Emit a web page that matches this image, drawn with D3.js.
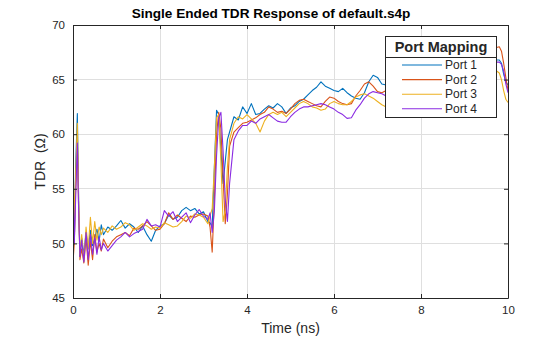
<!DOCTYPE html>
<html><head><meta charset="utf-8">
<script src="https://cdn.jsdelivr.net/npm/d3@7"></script>
<style>
body{margin:0;background:#fff;}
svg{font-family:"Liberation Sans",Arial,sans-serif;}
</style></head>
<body><svg id="c" width="560" height="337"></svg>
<script>
const timeNs = [
 0,0.03,0.06,0.1,0.13,0.16,0.2,0.25,0.3,0.35,
 0.4,0.45,0.5,0.55,0.6,0.65,0.7,0.8,0.9,1.0,
 1.1,1.2,1.3,1.4,1.5,1.6,1.7,1.8,1.9,2.0,
 2.1,2.2,2.3,2.4,2.5,2.6,2.7,2.8,2.9,3.0,
 3.1,3.15,3.2,3.25,3.3,3.35,3.4,3.45,3.5,3.55,
 3.6,3.7,3.8,3.9,4.0,4.1,4.2,4.3,4.4,4.5,
 4.6,4.7,4.8,4.9,5.0,5.1,5.2,5.3,5.4,5.5,
 5.6,5.7,5.8,5.9,6.0,6.1,6.2,6.3,6.4,6.5,
 6.6,6.7,6.8,6.9,7.0,7.1,7.2,7.4,7.6,7.8,
 8.0,8.2,8.4,8.6,8.8,9.0,9.2,9.4,9.6,9.7,
 9.8,9.85,9.9,9.95,10.0];
const port1 = [
 56,50,57,61.9,54,48.8,50.5,49,51,49.5,
 51.2,49.8,50.5,51.3,50.2,51.7,50.8,51.5,51.2,51.6,
 52.1,51.4,51.8,51.5,51.0,51.6,50.8,50.2,51.2,51.6,
 51.8,52.6,52.2,52.4,53.0,53.3,53.0,53.2,52.7,52.9,
 52.0,51.9,51.5,57,62.2,61.8,58.5,55.5,57.5,59.5,
 60.2,61.6,61.3,62.5,61.9,62.8,61.8,61.9,62.3,62.6,
 62.4,62.8,62.5,61.9,62.4,62.6,63.0,63.2,63.6,64.0,
 64.3,64.8,64.4,64.2,64.0,63.9,64.2,63.8,63.5,63.3,
 63.2,63.8,64.8,65.4,65.2,64.6,64.5,64.3,64.2,64.0,
 64.0,64.3,64.2,64.5,64.5,64.8,65.0,65.5,66.3,66.8,
 66.8,66.5,65.5,64.8,64.5];
const port2 = [
 48.3,50,55,59.5,53,48.5,49.5,48.2,50.5,48.0,
 50.2,48.5,50.8,49.2,50.0,49.3,50.4,49.6,50.2,50.6,
 50.8,51.0,50.7,51.4,51.3,51.6,52.0,51.6,51.2,51.3,
 51.8,52.8,52.2,52.6,52.3,52.0,52.5,52.4,52.6,52.7,
 52.5,51.5,49.2,54,60,62.0,60.5,56,51.8,54.5,
 58.9,60.2,60.6,61.0,61.1,61.3,61.5,61.8,62.0,62.5,
 62.3,62.0,62.1,61.9,62.3,62.8,63.1,63.2,63.0,62.8,
 62.6,62.5,63.0,63.4,63.3,63.0,62.8,62.7,62.8,63.5,
 64.0,64.6,64.8,64.4,63.9,63.8,64.0,64.5,64.8,65.0,
 65.2,65.3,65.5,65.8,66.0,66.4,66.8,67.3,67.8,67.9,
 68.0,67.6,66.5,65.2,64.0];
const port3 = [
 58.3,52,56,61.0,54,49.0,50.8,48.5,51.5,49.5,
 52.4,50.0,52.0,50.3,51.5,50.8,51.4,51.0,51.6,51.3,
 51.5,51.9,51.7,51.2,51.5,51.8,51.6,51.3,51.5,51.4,
 51.9,51.7,51.5,51.6,52.0,52.5,52.3,52.7,52.6,52.4,
 51.8,52.5,53.2,57,61.5,61.8,57.5,52.0,53.0,57.0,
 59.5,61.0,61.6,61.4,61.8,61.4,61.0,60.2,61.2,61.8,
 62.0,61.8,62.0,61.6,62.0,62.4,62.8,63.0,62.8,62.5,
 62.4,62.2,62.3,62.8,63.0,62.8,62.7,62.7,63.0,63.4,
 63.6,63.7,63.5,63.3,63.0,62.7,62.5,62.8,63.2,63.5,
 63.8,64.0,64.2,64.5,64.7,65.0,65.3,65.6,65.9,65.9,
 65.6,65.0,64.0,63.2,62.9];
const port4 = [
 56.7,50,54,59.2,53,48.8,50.3,48.3,51.0,48.5,
 50.8,49.0,50.5,49.0,50.6,49.4,50.0,49.3,49.8,50.3,
 50.6,51.0,50.6,50.9,51.1,51.3,52.2,51.6,51.7,51.5,
 53.0,52.5,52.9,52.0,52.4,52.8,51.9,52.6,53.1,52.5,
 52.2,52.8,51.0,53,58,61.5,62.0,58.5,54,52.0,
 55.5,59.5,60.3,60.8,60.8,61.2,61.0,61.4,61.6,61.8,
 61.5,61.2,61.1,61.1,61.6,62.0,62.3,62.5,62.5,62.6,
 62.7,62.8,62.7,62.5,62.3,62.0,61.8,61.45,61.5,62.2,
 62.7,63.3,63.7,63.9,63.8,63.7,63.5,63.6,63.8,64.0,
 64.2,64.4,64.6,64.8,65.0,65.3,65.6,66.0,66.5,66.6,
 66.6,66.4,65.8,64.6,63.8];
const seriesNames = ["Port 1","Port 2","Port 3","Port 4"];
const seriesColors = ["#0072BD","#D95319","#EDB120","#8A2BE2"];
const xTicks = [0,2,4,6,8,10];
const yTicks = [45,50,55,60,65,70];
const titleText = "Single Ended TDR Response of default.s4p";
const xLabel = "Time (ns)";
const yLabel = "TDR\u00A0\u00A0(\u03A9)";
const legendTitle = "Port Mapping";

const allSeries = [port1,port2,port3,port4];
const svg = d3.select("#c");
const L=73,R=508,T=25,B=298;
const x = d3.scaleLinear().domain([0,10]).range([L,R]);
const y = d3.scaleLinear().domain([45,70]).range([B,T]);
const ink = "#262626";

// grid
const g = svg.append("g");
g.selectAll(".gx").data(xTicks).enter().append("line")
 .attr("x1",d=>x(d)).attr("x2",d=>x(d)).attr("y1",T).attr("y2",B)
 .attr("stroke","#dfdfdf").attr("stroke-width",1).attr("shape-rendering","crispEdges");
g.selectAll(".gy").data(yTicks).enter().append("line")
 .attr("x1",L).attr("x2",R).attr("y1",d=>y(d)).attr("y2",d=>y(d))
 .attr("stroke","#dfdfdf").attr("stroke-width",1).attr("shape-rendering","crispEdges");

svg.append("clipPath").attr("id","clip").append("rect")
 .attr("x",L).attr("y",T).attr("width",R-L).attr("height",B-T);

const line = d3.line().x((d,i)=>x(timeNs[i])).y(d=>y(d));
const lg = svg.append("g").attr("clip-path","url(#clip)");
allSeries.forEach((s,k)=>{
  lg.append("path").datum(s).attr("d",line).attr("fill","none")
    .attr("stroke",seriesColors[k]).attr("stroke-width",1.1).attr("stroke-linejoin","round");
});

// axes
const xAxisB = d3.axisBottom(x).tickValues(xTicks).tickSizeInner(-4).tickSizeOuter(0).tickPadding(8);
const xAxisT = d3.axisTop(x).tickValues(xTicks).tickSizeInner(-4).tickSizeOuter(0).tickFormat("");
const yAxisL = d3.axisLeft(y).tickValues(yTicks).tickSizeInner(-4).tickSizeOuter(0).tickPadding(8);
const yAxisR = d3.axisRight(y).tickValues(yTicks).tickSizeInner(-4).tickSizeOuter(0).tickFormat("");
function style(sel){
  sel.select(".domain").attr("stroke",ink).attr("stroke-width",1);
  sel.selectAll(".tick line").attr("stroke",ink);
  sel.selectAll("text").attr("fill",ink).style("font-size","11.5px").style("font-family","'Liberation Sans',Arial,sans-serif");
}
svg.append("g").attr("transform",`translate(0,${B})`).call(xAxisB).call(style);
svg.append("g").attr("transform",`translate(0,${T})`).call(xAxisT).call(style);
svg.append("g").attr("transform",`translate(${L},0)`).call(yAxisL).call(style);
svg.append("g").attr("transform",`translate(${R},0)`).call(yAxisR).call(style);

// labels
svg.append("text").attr("x",271).attr("y",18).attr("text-anchor","middle")
 .attr("font-weight","bold").attr("font-size","13.6px").attr("fill","#000").text(titleText);
svg.append("text").attr("x",(L+R)/2).attr("y",333).attr("text-anchor","middle")
 .attr("font-size","14px").attr("fill",ink).text(xLabel);
svg.append("text").attr("transform",`translate(45,${(T+B)/2}) rotate(-90)`).attr("text-anchor","middle")
 .attr("font-size","14px").attr("fill",ink).text(yLabel);

// legend
const lgx=385, lgy=36, lgw=111, lgh=81;
const leg = svg.append("g");
leg.append("rect").attr("x",lgx+0.5).attr("y",lgy+0.5).attr("width",lgw).attr("height",lgh)
 .attr("fill","#fff").attr("stroke",ink).attr("stroke-width",1);
leg.append("line").attr("x1",lgx).attr("x2",lgx+lgw).attr("y1",lgy+21.5).attr("y2",lgy+21.5)
 .attr("stroke",ink).attr("stroke-width",1);
leg.append("text").attr("x",lgx+lgw/2+0.5).attr("y",lgy+16).attr("text-anchor","middle")
 .attr("font-weight","bold").attr("font-size","14.5px").attr("fill",ink).text(legendTitle);
seriesNames.forEach((n,k)=>{
  const yy = lgy+29+k*14.6;
  leg.append("line").attr("x1",402).attr("x2",442).attr("y1",yy).attr("y2",yy)
   .attr("stroke",seriesColors[k]).attr("stroke-width",1.1);
  leg.append("text").attr("x",445).attr("y",yy+4).attr("font-size","12px").attr("fill",ink).text(n);
});
</script></body></html>
